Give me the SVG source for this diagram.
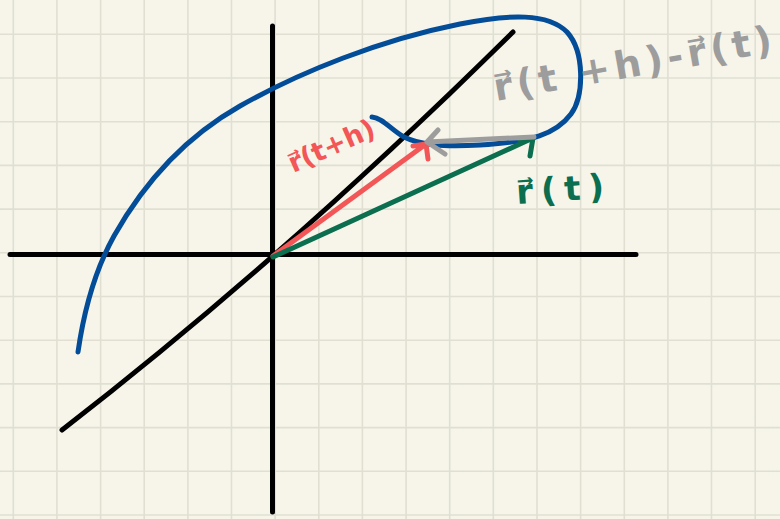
<svg xmlns="http://www.w3.org/2000/svg" width="780" height="519" viewBox="0 0 780 519">
<style>
.grid{stroke:#e0dfd2;stroke-width:1.6;fill:none}
.ax{stroke:#000;stroke-width:5;stroke-linecap:round;fill:none}
.v{stroke-width:5;stroke-linecap:round;stroke-linejoin:round;fill:none}
.lbl{font-family:"DejaVu Sans",sans-serif;font-weight:bold}
</style>
<rect width="780" height="519" fill="#f7f5ea"/>
<path class="grid" d="M13.3,0V519M56.9,0V519M100.6,0V519M144.2,0V519M187.9,0V519M231.5,0V519M275.1,0V519M318.8,0V519M362.4,0V519M406.1,0V519M449.7,0V519M493.3,0V519M537,0V519M580.6,0V519M624.3,0V519M667.9,0V519M711.5,0V519M755.2,0V519M0,34.3H780M0,78H780M0,121.7H780M0,165.4H780M0,209.1H780M0,252.8H780M0,296.5H780M0,340.2H780M0,383.9H780M0,427.6H780M0,471.3H780M0,515H780"/>
<g id="axes">
<path class="ax" d="M272.5,26V512"/>
<path class="ax" d="M10,254.5H636"/>
<path class="ax" d="M62,430Q284.5,258 513,32"/>
</g>
<g id="curve">
<path class="v" stroke="#034c98" d="M78,352C84,310 94,272 114,236C140,190 180,140 240,106C300,72 380,40 460,24C510,14 548,13 567,32C585,52 584,96 571,114C556,134 532,142 480,145C442,147 420,145 404,137C390,129 383,118 372,117"/>
</g>
<g id="connectors">
<path class="v" stroke="#f25656" d="M273,256L426,144M413,146L426,144L428,159"/>
<path class="v" stroke="#0b6e4f" d="M273,257L533,138M520,140L533,138L530,156"/>
<path class="v" stroke="#9d9d9d" d="M534,137L427,142M438,130L427,142L445,154"/>
</g>
<g id="labels">
<text class="lbl" fill="#9d9d9d" font-size="38" transform="translate(496,101) rotate(-10)" textLength="282" lengthAdjust="spacing">r&#x20D7;(t +h)-r&#x20D7;(t)</text>
<text class="lbl" fill="#f25656" font-size="27" transform="translate(293,173) rotate(-24)" textLength="92" lengthAdjust="spacing">r&#x20D7;(t+h)</text>
<text class="lbl" fill="#0b6e4f" font-size="34" transform="translate(517,204) rotate(-4)" textLength="88" lengthAdjust="spacing">r&#x20D7;(t)</text>
</g>
</svg>
